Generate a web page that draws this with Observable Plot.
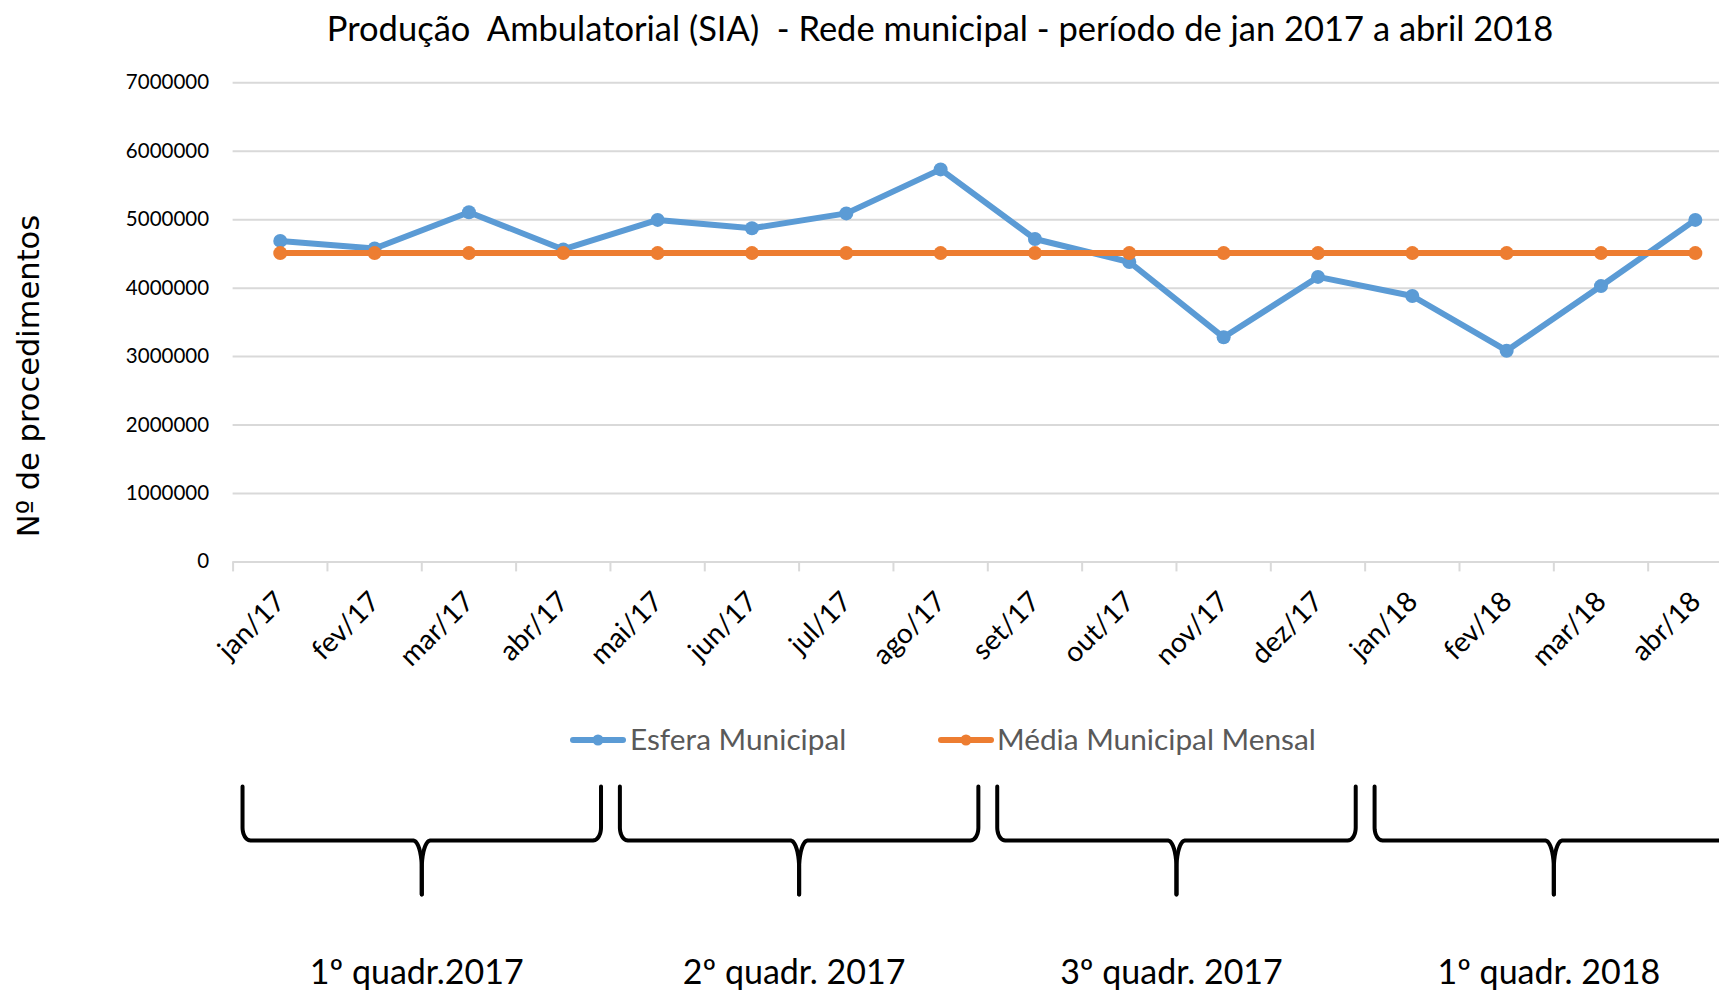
<!DOCTYPE html>
<html>
<head>
<meta charset="utf-8">
<script src="https://cdn.jsdelivr.net/npm/d3@7"></script>
<script src="https://cdn.jsdelivr.net/npm/@observablehq/plot@0.6"></script>
<style>
  html, body { margin: 0; padding: 0; background: #fff; overflow: hidden; }
  #wrap { position: relative; width: 1719px; height: 992px; overflow: hidden; font-family: Lato, "Open Sans", sans-serif; }
  .abs { position: absolute; white-space: nowrap; line-height: 1; }
  #title { left: 940px; top: 28px; transform: translate(-50%, -50%); font-size: 34.5px; color: #000; }
  #ylab { left: 29px; top: 376px; transform: translate(-50%, -50%) rotate(-90deg); font-family: "DejaVu Sans", sans-serif; font-size: 30.5px; color: #000; }
  .legtext { font-size: 29.8px; color: #595959; transform: translateY(-50%); top: 739px; }
  .sw { position: absolute; top: 732px; }
  #main { position: absolute; left: 0; top: 0; }
  #braces { position: absolute; left: 0; top: 780px; }
</style>
</head>
<body>
<div id="wrap">
  <div id="main"></div>
  <div id="braces"></div>
  <div id="title" class="abs">Produção&nbsp; Ambulatorial (SIA)&nbsp; - Rede municipal - período de jan 2017 a abril 2018</div>
  <div id="ylab" class="abs">Nº de procedimentos</div>
  <div id="legend"></div>
</div>
<script>
// ---- data ----
const months = ["jan/17","fev/17","mar/17","abr/17","mai/17","jun/17","jul/17","ago/17",
                "set/17","out/17","nov/17","dez/17","jan/18","fev/18","mar/18","abr/18"];
const esferaMunicipal = [4690000, 4578000, 5109000, 4565000, 4997000, 4874000, 5092000, 5735000,
                         4718000, 4382000, 3281000, 4164000, 3885000, 3086000, 4030000, 4997000];
const mediaMensal = [4512000, 4512000, 4512000, 4512000, 4512000, 4512000, 4512000, 4512000,
                     4512000, 4512000, 4512000, 4512000, 4512000, 4512000, 4512000, 4512000];
const yTicks = [0, 1000000, 2000000, 3000000, 4000000, 5000000, 6000000, 7000000];
const seriesNames = ["Esfera Municipal", "Média Municipal Mensal"];
const seriesColors = ["#5B9BD5", "#ED7D31"];
const quarters = [
  {label: "1º quadr.2017", start: 0, end: 4},
  {label: "2º quadr. 2017", start: 4, end: 8},
  {label: "3º quadr. 2017", start: 8, end: 12},
  {label: "1º quadr. 2018", start: 12, end: 16}
];

// ---- table ----
const rows = [];
months.forEach((m, i) => {
  rows.push({series: seriesNames[0], idx: i + 0.5, month: m, value: esferaMunicipal[i]});
});
months.forEach((m, i) => {
  rows.push({series: seriesNames[1], idx: i + 0.5, month: m, value: mediaMensal[i]});
});
const boundaries = d3.range(0, months.length + 1);
const xRange = [232.6, 1742];

const W = 1719, H = 700;
const main = Plot.plot({
  width: W, height: H,
  marginLeft: 232.6, marginRight: 0, marginTop: 82.3, marginBottom: H - 561.4,
  style: {fontFamily: "Lato, sans-serif", fontSize: "20.5px", color: "#000", background: "transparent"},
  x: {type: "linear", domain: [0, months.length], range: xRange, axis: null},
  y: {domain: [0, 7000000], axis: null},
  marks: [
    Plot.ruleY(yTicks, {stroke: "#d9d9d9", strokeWidth: 2}),
    Plot.axisX({ticks: boundaries, tickSize: 10, tickFormat: () => "", stroke: "#d9d9d9", strokeWidth: 2, label: null}),
    Plot.axisY({ticks: yTicks, tickSize: 0, tickPadding: 24, tickFormat: d3.format("d"), label: null, fontSize: 20.5}),
    Plot.text(months, {x: (d, i) => i + 0.5, y: () => 0, text: d => d, rotate: -45, textAnchor: "end",
      dx: 0.5, dy: 35, fontSize: 28, fill: "#000"}),
    Plot.line(rows.filter(r => r.series === seriesNames[0]), {x: "idx", y: "value", stroke: seriesColors[0], strokeWidth: 6, strokeLinejoin: "round", strokeLinecap: "round"}),
    Plot.dot(rows.filter(r => r.series === seriesNames[0]), {x: "idx", y: "value", r: 7, fill: seriesColors[0], stroke: null}),
    Plot.line(rows.filter(r => r.series === seriesNames[1]), {x: "idx", y: "value", stroke: seriesColors[1], strokeWidth: 6, strokeLinejoin: "round", strokeLinecap: "round"}),
    Plot.dot(rows.filter(r => r.series === seriesNames[1]), {x: "idx", y: "value", r: 7, fill: seriesColors[1], stroke: null})
  ]
});
document.getElementById("main").appendChild(main);

// ---- braces (decorative shape, built in band units) ----
const inset = 0.1, rx = 0.085, ry = 0.12, rx2 = 0.09, ry2 = 0.26, mid = 0.5;
const bracePts = [];
const steps = d3.range(0, 1.0001, 1 / 10).map(t => t * Math.PI / 2);
quarters.forEach((q, k) => {
  const a = q.start + inset, b = q.end - inset, c = (q.start + q.end) / 2;
  [[a, 1], [b, -1]].forEach(([e, s], h) => {
    const g = k * 2 + h;
    bracePts.push({g, x: e, y: 0});
    steps.forEach(t => bracePts.push({g, x: e + s * rx * (1 - Math.cos(t)), y: mid - ry + ry * Math.sin(t)}));
    steps.forEach(t => bracePts.push({g, x: c - s * rx2 + s * rx2 * Math.sin(t), y: mid + ry2 - ry2 * Math.cos(t)}));
    bracePts.push({g, x: c, y: 1});
  });
});
const BH = 212;
const braces = Plot.plot({
  width: W, height: BH,
  marginLeft: 232.6, marginRight: 0, marginTop: 6, marginBottom: BH - 114,
  style: {fontFamily: "Lato, sans-serif", fontSize: "34px", color: "#000", background: "transparent"},
  x: {type: "linear", domain: [0, months.length], range: xRange, axis: null},
  y: {domain: [0, 1], range: [6, 114], axis: null},
  marks: [
    Plot.line(bracePts, {x: "x", y: "y", z: "g", stroke: "#000", strokeWidth: 4, strokeLinejoin: "round"}),
    Plot.text(quarters, {x: d => (d.start + d.end) / 2, frameAnchor: "bottom", dx: -5, dy: 89.5, text: "label", fontSize: 34, fill: "#000"})
  ]
});
document.getElementById("braces").appendChild(braces);

// ---- legend ----
const legend = document.getElementById("legend");
const legPos = [{sw: 570, tx: 630}, {sw: 938, tx: 997}];
seriesNames.forEach((name, i) => {
  const sw = document.createElementNS("http://www.w3.org/2000/svg", "svg");
  sw.setAttribute("class", "sw");
  sw.setAttribute("width", 56); sw.setAttribute("height", 16);
  sw.style.left = legPos[i].sw + "px";
  sw.innerHTML = `<line x1="3" y1="8" x2="53" y2="8" stroke="${seriesColors[i]}" stroke-width="6" stroke-linecap="round"/>` +
                 `<circle cx="28" cy="8" r="5.5" fill="${seriesColors[i]}"/>`;
  legend.appendChild(sw);
  const t = document.createElement("div");
  t.className = "abs legtext";
  t.style.left = legPos[i].tx + "px";
  t.textContent = name;
  legend.appendChild(t);
});
</script>
</body>
</html>
